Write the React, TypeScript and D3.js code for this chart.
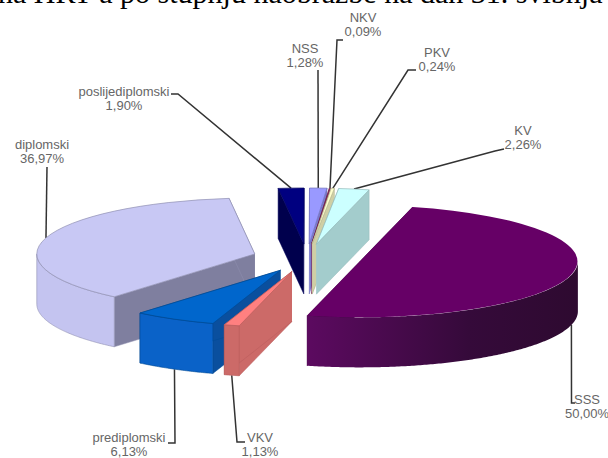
import * as d3 from "d3";

const categories = ["SSS", "VKV", "prediplomski", "diplomski", "poslijediplomski", "NSS", "NKV", "PKV", "KV"];
const shares = [50.0, 1.13, 6.13, 36.97, 1.9, 1.28, 0.09, 0.24, 2.26];
const topColours = ["#660066", "#ff8080", "#0066cc", "#c8c8f4", "#000080", "#9999ff", "#993366", "#ffffcc", "#ccffff"];
const wallColours = ["url(#sssWall)", "#cc6a68", "#0a62c8", "#c4c4f0", "#000060", "#7a7acc", "#7a2952", "#d6d6aa", "#a3cccc"];
const sideColours = ["#3a0a3e", "#cc6a68", "#0a4f9e", "#7f7f9f", "#00004d", "#7a7acc", "#7a2952", "#cfcfa5", "#a3cccc"];

// label centre, then the bend of the leader line (null = straight)
const labelX = [587, 260, 129, 42, 124, 305, 363, 437, 523];
const labelY = [399, 437, 437, 144, 91, 48, 17, 52, 130];
const leaderFrom = [[575, 403], [245, 442], [168, 443], [47, 167], [171, 94], [318, 70], [343, 40], [416, 70], [504, 149]];
const leaderBend = [[571.5, 403], [237, 442], [175, 443], null, [178, 94], null, [337, 40], [408, 70], [495, 151]];

const W = 608;
const H = 458;
const CX = 307;
const CY = 258;
const RX = 218;
const RY = 56;
const DEPTH = 50;
const EXPLODE = 0.25;
const START = (14 * Math.PI) / 180;

const pie = d3.pie<number>().sort(null).startAngle(START).endAngle(START + 2 * Math.PI);
const slices = pie(shares);
const topArc = d3.arc<any>().innerRadius(0).outerRadius(RX);
const line = d3.line();

// t is clockwise from 12 o'clock, same as d3.arc
const rim = (t: number, r = 1): [number, number] => [r * RX * Math.sin(t), -r * RY * Math.cos(t)];

// back slices first, the front ones paint over them
const drawOrder = [4, 5, 6, 7, 8, 3, 2, 1, 0];

const Slice = ({ i }: { i: number }) => {
  const s = slices[i];
  const mid = (s.startAngle + s.endAngle) / 2;
  const [ox, oy] = rim(mid, EXPLODE);
  const x = CX + ox;
  const y = CY + oy;
  const edge = d3.color(topColours[i])!.darker(0.9).formatHex();

  const radial = (t: number) => {
    const [px, py] = rim(t);
    return line([[0, 0], [px, py], [px, py + DEPTH], [0, DEPTH]]);
  };

  // only the half of the rim facing the viewer has a wall
  const tops: [number, number][] = [];
  const bottoms: [number, number][] = [];
  const twoPi = 2 * Math.PI;
  for (const k of [0, 1]) {
    const a = Math.max(s.startAngle, Math.PI / 2 + k * twoPi);
    const b = Math.min(s.endAngle, (3 * Math.PI) / 2 + k * twoPi);
    if (b > a) {
      d3.range(a, b, 0.01).concat(b).forEach((t) => {
        const [px, py] = rim(t);
        tops.push([px, py]);
        bottoms.unshift([px, py + DEPTH]);
      });
    }
  }

  return (
    <g transform={`translate(${x},${y})`}>
      <path d={radial(s.startAngle)!} fill={sideColours[i]} stroke={edge} strokeWidth={0.5} />
      <path d={radial(s.endAngle)!} fill={sideColours[i]} stroke={edge} strokeWidth={0.5} />
      {tops.length > 0 && (
        <path d={line([...tops, ...bottoms])! + "Z"} fill={wallColours[i]} stroke={i === 0 ? "none" : edge} strokeWidth={0.6} />
      )}
      <g transform={`scale(1,${RY / RX})`}>
        <path
          d={topArc({ startAngle: s.startAngle, endAngle: s.endAngle })!}
          fill={topColours[i]}
          stroke={i === 0 ? "none" : edge}
          strokeWidth={0.7}
          vectorEffect="non-scaling-stroke"
        />
      </g>
    </g>
  );
};

const Leader = ({ i }: { i: number }) => {
  const s = slices[i];
  const mid = (s.startAngle + s.endAngle) / 2;
  const [ox, oy] = rim(mid, EXPLODE);
  const [px, py] = rim(mid);
  const front = Math.cos(mid) < 0;
  const end: [number, number] = [CX + ox + px, CY + oy + py + (front ? DEPTH : 0)];
  const pts = [leaderFrom[i], leaderBend[i], end].filter(Boolean) as [number, number][];
  return <path d={line(pts)!} fill="none" stroke="#333" strokeWidth={1.5} />;
};

const pct = (v: number) => v.toFixed(2).replace(".", ",") + "%";

export default function App() {
  return (
    <svg width={W} height={H} style={{ position: "absolute", left: 0, top: 0, background: "#fff" }}>
      <defs>
        <linearGradient id="sssWall" x1="0" x2="1" y1="0" y2="0">
          <stop offset="0" stopColor="#5c0a60" />
          <stop offset="0.6" stopColor="#350a3a" />
          <stop offset="1" stopColor="#2e0a30" />
        </linearGradient>
      </defs>
      <text x={-2} y={3} fontFamily="'Liberation Serif', serif" fontSize={30} fill="#000">
        na HRT-a po stupnju naobrazbe na dan 31. svibnja
      </text>
      {drawOrder.map((i) => (
        <Leader key={i} i={i} />
      ))}
      {drawOrder.map((i) => (
        <Slice key={i} i={i} />
      ))}
      {categories.map((c, i) => (
        <text key={c} textAnchor="middle" fontFamily="'Liberation Sans', Arial, sans-serif" fontSize={13} fill="#666">
          <tspan x={labelX[i]} y={labelY[i] + 4.5}>{c}</tspan>
          <tspan x={labelX[i]} y={labelY[i] + 19}>{pct(shares[i])}</tspan>
        </text>
      ))}
    </svg>
  );
}
